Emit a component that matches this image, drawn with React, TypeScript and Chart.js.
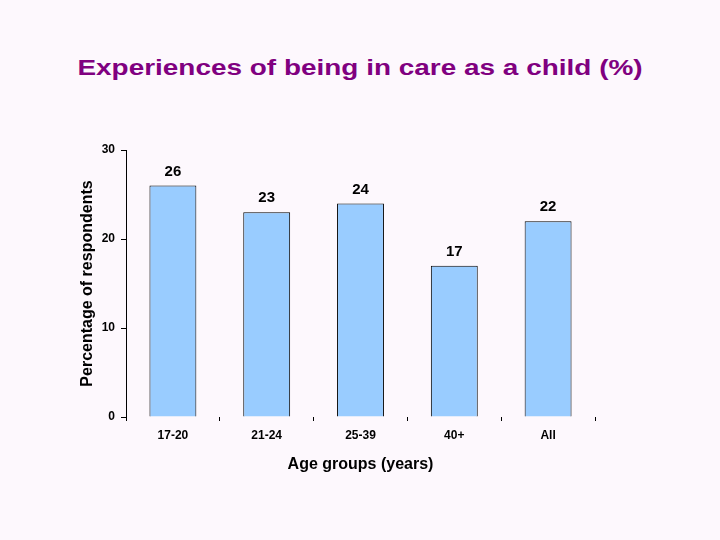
import { useEffect, useRef } from 'react'
import { Chart, registerables } from 'chart.js'

Chart.register(...registerables)

const ageGroups = ['17-20', '21-24', '25-39', '40+', 'All']
const inCarePercent = [26, 23, 24, 17, 22]
const yTicks = [0, 10, 20, 30]

const FONT = '"Liberation Sans", Arial, sans-serif'

// draws the value above each bar
const barValueLabels = {
  id: 'barValueLabels',
  afterDatasetsDraw(chart: any) {
    const { ctx } = chart
    const meta = chart.getDatasetMeta(0)
    ctx.save()
    ctx.font = `bold 15px ${FONT}`
    ctx.fillStyle = '#000'
    ctx.textAlign = 'center'
    ctx.textBaseline = 'middle'
    meta.data.forEach((bar: any, i: number) => {
      ctx.fillText(String(inCarePercent[i]), bar.x, bar.y - 14)
    })
    ctx.restore()
  },
}

export default function App() {
  const canvasRef = useRef<HTMLCanvasElement>(null)
  const chartRef = useRef<Chart | null>(null)

  useEffect(() => {
    document.body.style.margin = '0'
    if (!canvasRef.current) return
    const ctx = canvasRef.current.getContext('2d')
    if (!ctx) return

    chartRef.current = new Chart(ctx, {
      type: 'bar',
      data: {
        labels: ageGroups,
        datasets: [
          {
            label: 'In care as a child',
            data: inCarePercent,
            backgroundColor: '#99CCFF',
            borderColor: '#000',
            borderWidth: 1,
            barPercentage: 0.5,
            categoryPercentage: 1,
          },
        ],
      },
      options: {
        responsive: false,
        animation: false,
        layout: { padding: { left: 78, right: 125, top: 150, bottom: 62 } },
        plugins: {
          legend: { display: false },
          tooltip: { enabled: false },
        },
        scales: {
          x: {
            afterFit: (s: any) => { s.height = 61 },
            grid: {
              offset: true,
              drawOnChartArea: false,
              tickLength: 4,
              color: '#000',
            },
            border: { display: false },
            ticks: {
              color: '#000',
              font: { family: FONT, size: 12, weight: 'bold' },
              padding: 7,
            },
            title: {
              display: true,
              text: 'Age groups (years)',
              color: '#000',
              font: { family: FONT, size: 16, weight: 'bold' },
              padding: { top: 2 },
            },
          },
          y: {
            min: 0,
            max: 30,
            afterFit: (s: any) => { s.width = 48 },
            afterBuildTicks: (s: any) => { s.ticks = yTicks.map(v => ({ value: v })) },
            grid: {
              drawOnChartArea: false,
              tickLength: 5,
              color: '#000',
            },
            border: { display: true, color: '#000', width: 1 },
            ticks: {
              color: '#000',
              font: { family: FONT, size: 12, weight: 'bold' },
              padding: 6,
            },
            title: {
              display: true,
              text: 'Percentage of respondents',
              color: '#000',
              font: { family: FONT, size: 16, weight: 'bold' },
              padding: 0,
            },
          },
        },
      },
      plugins: [barValueLabels],
    } as any)

    return () => {
      chartRef.current?.destroy()
      chartRef.current = null
    }
  }, [])

  return (
    <div style={{ position: 'relative', width: 720, height: 540, background: '#FDF8FD' }}>
      <div
        style={{
          position: 'absolute',
          top: 54,
          left: 0,
          width: 720,
          textAlign: 'center',
          fontFamily: FONT,
          fontWeight: 'bold',
          fontSize: 22,
          lineHeight: '28px',
          color: '#800080',
          transform: 'scaleX(1.27)',
          transformOrigin: '360px 0',
        }}
      >
        Experiences of being in care as a child (%)
      </div>
      <canvas ref={canvasRef} width={720} height={540} style={{ position: 'absolute', left: 0, top: 0 }} />
    </div>
  )
}
